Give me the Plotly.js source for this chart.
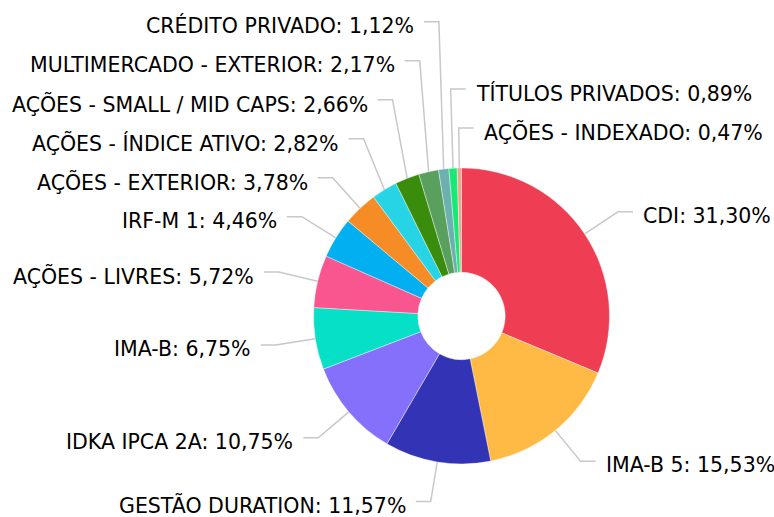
<!DOCTYPE html>
<html><head><meta charset="utf-8">
<script src="https://cdn.plot.ly/plotly-3.0.1.min.js"></script>
<style>html,body{margin:0;padding:0;background:#fff}</style>
</head><body><div id="chart" style="width:774px;height:517px"></div>
<script>
const categories = ["CDI", "IMA-B 5", "GESTÃO DURATION", "IDKA IPCA 2A", "IMA-B", "AÇÕES - LIVRES", "IRF-M 1", "AÇÕES - EXTERIOR", "AÇÕES - ÍNDICE ATIVO", "AÇÕES - SMALL / MID CAPS", "MULTIMERCADO - EXTERIOR", "CRÉDITO PRIVADO", "TÍTULOS PRIVADOS", "AÇÕES - INDEXADO"];
const values = [31.30, 15.53, 11.57, 10.75, 6.75, 5.72, 4.46, 3.78, 2.82, 2.66, 2.17, 1.12, 0.89, 0.47];
const colors = ["#EF3E54", "#FFBA45", "#3333B5", "#8470FA", "#06E0C6", "#F9558F", "#02B0F1", "#F68C26", "#27D4E6", "#3A8C0C", "#59A05F", "#6CB1B0", "#17E876", "#F4A28A"];
const labelSide = ["R", "R", "L", "L", "L", "L", "L", "L", "L", "L", "L", "L", "R", "R"];

const W = 774, H = 517, CX = 461.5, CY = 316, R = 148;
const ELBOW_R = 188, HSEG = 15, GAP = 8, SPACING = 39, TEXT_DY = 4;
const FONT = {family: "DejaVu Sans", size: 20.5, color: "#000"};

const total = values.reduce((a, b) => a + b, 0);
let cum = 0;
const mids = values.map(v => { const m = (cum + v / 2) / total * 360; cum += v; return m; });

const pts = mids.map(a => {
  const t = (90 - a) * Math.PI / 180;
  return {
    a: a,
    sx: CX + R * Math.cos(t), sy: CY - R * Math.sin(t),
    ex: CX + ELBOW_R * Math.cos(t), ny: CY - ELBOW_R * Math.sin(t)
  };
});

// simple collision resolution, from the bottom of each side upwards
const left = [], right = [];
labelSide.forEach((s, i) => (s === "L" ? left : right).push(i));
left.sort((i, j) => pts[i].a - pts[j].a);
const wrap = a => (a > 180 ? a - 360 : a);
right.sort((i, j) => wrap(pts[j].a) - wrap(pts[i].a));
[left, right].forEach(group => {
  let prev = Infinity;
  group.forEach(i => {
    const y = Math.min(pts[i].ny, prev - SPACING);
    pts[i].ly = y; prev = y;
  });
});

const px = x => x / W, py = y => 1 - y / H;
const shapes = [], annotations = [];
values.forEach((v, i) => {
  const p = pts[i], dir = labelSide[i] === "L" ? -1 : 1;
  const hx = p.ex + dir * HSEG;
  shapes.push({
    type: "path", xref: "paper", yref: "paper", layer: "below",
    path: `M ${px(p.sx)} ${py(p.sy)} L ${px(p.ex)} ${py(p.ly)} L ${px(hx)} ${py(p.ly)}`,
    line: {color: "#c8c8c8", width: 1.5}
  });
  annotations.push({
    xref: "paper", yref: "paper", showarrow: false,
    x: px(hx + dir * GAP), y: py(p.ly + TEXT_DY),
    xanchor: dir < 0 ? "right" : "left", yanchor: "middle",
    text: categories[i] + ": " + v.toFixed(2).replace(".", ",") + "%",
    font: FONT
  });
});

const trace = {
  type: "pie", labels: categories, values: values, sort: false,
  direction: "clockwise", rotation: 0, hole: 0.295,
  marker: {colors: colors, line: {color: "#fff", width: 0.4}},
  textinfo: "none", hoverinfo: "label+percent", showlegend: false,
  domain: {x: [px(CX - R), px(CX + R)], y: [py(CY + R), py(CY - R)]}
};

Plotly.newPlot("chart", [trace], {
  width: W, height: H, margin: {l: 0, r: 0, t: 0, b: 0},
  paper_bgcolor: "#fff", showlegend: false,
  shapes: shapes, annotations: annotations
}, {displayModeBar: false, staticPlot: true});
</script></body></html>
